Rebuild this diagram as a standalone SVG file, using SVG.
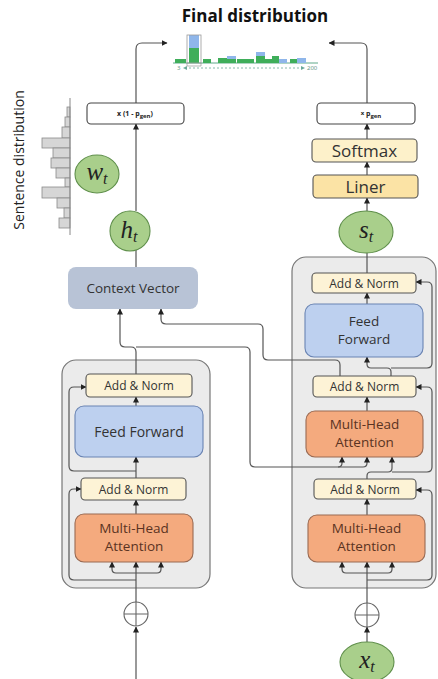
<svg xmlns="http://www.w3.org/2000/svg" width="438" height="679" viewBox="0 0 438 679">
<defs>
<marker id="a" viewBox="0 0 6 6" refX="5.5" refY="3" markerWidth="6" markerHeight="6" orient="auto" markerUnits="userSpaceOnUse"><path d="M0,0 L6,3 L0,6 z" fill="#222"/></marker>
</defs>
<style>
.ln{fill:none;stroke:#555;stroke-width:1.2}
.ar{marker-end:url(#a)}
.ct{fill:#ebebeb;stroke:#777;stroke-width:1.2}
.an{fill:#fdf3d6;stroke:#555;stroke-width:1.1}
.ff{fill:#bdd0ef;stroke:#6a84b3;stroke-width:1.1}
.mh{fill:#f4aa7e;stroke:#9a6a52;stroke-width:1.1}
.gr{fill:#a9cf8b;stroke:#5f8f4b;stroke-width:1.1}
.t{font-family:"Open Sans","Noto Sans",sans-serif;fill:#333;text-anchor:middle}
.m{font-family:"Liberation Serif",serif;font-style:italic;fill:#222;text-anchor:middle}
.hb{fill:#d6d6d6;stroke:#8a8a8a;stroke-width:0.8}
</style>
<rect width="438" height="679" fill="#fff"/>

<text x="255" y="22" class="t" style="font-weight:bold;font-size:17px;fill:#111">Final distribution</text>

<g id="final-dist">
<line x1="173" y1="63" x2="318" y2="63" stroke="#5fa98a" stroke-width="1"/>
<rect x="175" y="59" width="11" height="4" fill="#3fae5a"/>
<rect x="189" y="48" width="10" height="15" fill="#3fae5a"/>
<rect x="189" y="35" width="10" height="13" fill="#8fb6ea"/>
<rect x="187" y="35" width="14" height="28" fill="none" stroke="#999" stroke-width="0.8"/>
<rect x="203" y="59" width="8" height="4" fill="#3fae5a"/>
<rect x="218" y="58" width="9" height="5" fill="#3fae5a"/>
<rect x="227" y="56" width="9" height="7" fill="#8fb6ea"/>
<rect x="227" y="59" width="9" height="4" fill="#3fae5a"/>
<rect x="237" y="59" width="8" height="4" fill="#3fae5a"/>
<rect x="245" y="59" width="9" height="4" fill="#3fae5a"/>
<rect x="256" y="52" width="9" height="11" fill="#8fb6ea"/>
<rect x="256" y="56" width="9" height="7" fill="#3fae5a"/>
<rect x="265" y="59" width="7" height="4" fill="#3fae5a"/>
<rect x="272" y="56" width="7" height="7" fill="#3fae5a"/>
<rect x="279" y="59" width="8" height="4" fill="#8fb6ea"/>
<rect x="290" y="59" width="7" height="4" fill="#3fae5a"/>
<rect x="297" y="58" width="9" height="5" fill="#8fb6ea"/>
<path d="M187,63 V66 H201 V63" fill="none" stroke="#999" stroke-width="0.7"/>
<text x="177" y="70" style="font-family:'Noto Sans',sans-serif;font-size:6px;fill:#6a9a8a">3</text>
<line x1="185" y1="68" x2="303" y2="68" stroke="#6aa898" stroke-width="0.8" stroke-dasharray="2,2"/>
<path d="M183,68 l4,-2 v4 z M305,68 l-4,-2 v4 z" fill="#6aa898"/>
<text x="307" y="70" style="font-family:'Noto Sans',sans-serif;font-size:6px;fill:#6a9a8a">200</text>
</g>

<g id="sentence-dist">
<text transform="translate(24,160) rotate(-90)" style="font-family:'Open Sans','Noto Sans',sans-serif;font-size:14px;font-weight:500;fill:#222;text-anchor:middle">Sentence distribution</text>
<rect class="hb" x="67" y="107" width="3" height="10"/>
<rect class="hb" x="65" y="117" width="5" height="10"/>
<rect class="hb" x="62" y="127" width="8" height="11"/>
<rect class="hb" x="42" y="138" width="28" height="10"/>
<rect class="hb" x="53" y="148" width="17" height="10"/>
<rect class="hb" x="51" y="158" width="19" height="10"/>
<rect class="hb" x="56" y="168" width="14" height="10"/>
<rect class="hb" x="65" y="178" width="5" height="9"/>
<rect class="hb" x="42" y="187" width="28" height="11"/>
<rect class="hb" x="57" y="198" width="13" height="10"/>
<rect class="hb" x="64" y="208" width="6" height="10"/>
<rect class="hb" x="59" y="218" width="11" height="10"/>
<line x1="70" y1="98" x2="70" y2="235" stroke="#888" stroke-width="1"/>
</g>

<g id="encoder-container"><rect class="ct" x="62" y="360" width="148" height="228" rx="14"/></g>
<g id="decoder-container"><rect class="ct" x="292" y="257" width="144" height="331" rx="14"/></g>

<g id="connectors">
<path class="ln ar" d="M136,679 V627"/>
<path class="ln ar" d="M136,602 V562"/>
<path class="ln ar" d="M136,573 H116 Q112,573 112,569 V562"/>
<path class="ln ar" d="M136,573 H157 Q161,573 161,569 V562"/>
<path class="ln ar" d="M136,580 H74 Q69,580 69,575 V494 Q69,489 74,489 H81"/>
<path class="ln ar" d="M136,514 V500"/>
<path class="ln ar" d="M136,478 V457"/>
<path class="ln ar" d="M136,471 H74 Q69,471 69,466 V392 Q69,387 74,387 H86"/>
<path class="ln ar" d="M136,406 V397"/>
<path class="ln ar" d="M136,374 V352 Q136,347 131,347 H125 Q120,347 120,342 V309"/>
<path class="ln ar" d="M136,347 H245 Q250,347 250,352 V462 Q250,467 255,467 H338 Q342,467 342,463 V457"/>
<path class="ln ar" d="M338,467 H363 Q367,467 367,463 V457"/>
<path class="ln ar" d="M367,479 V476 Q367,472 371,472 H388 Q392,472 392,468 V457"/>
<path class="ln ar" d="M392,472 H427 Q432,472 432,467 V392 Q432,387 427,387 H416"/>
<path class="ln ar" d="M367,642 V627"/>
<path class="ln ar" d="M367,603 V562"/>
<path class="ln ar" d="M367,573 H346 Q342,573 342,569 V562"/>
<path class="ln ar" d="M367,573 H388 Q392,573 392,569 V562"/>
<path class="ln ar" d="M367,580 H427 Q432,580 432,575 V495 Q432,490 427,490 H416"/>
<path class="ln ar" d="M367,515 V499"/>
<path class="ln ar" d="M367,411 V397"/>
<path class="ln ar" d="M391,376 V372 Q391,368 387,368 H371 Q367,368 367,364 V357"/>
<path class="ln ar" d="M391,368 H427 Q432,368 432,363 V287 Q432,282 427,282 H416"/>
<path class="ln ar" d="M340,376 V365 Q340,360 335,360 H268 Q263,360 263,355 V329 Q263,324 258,324 H166 Q161,324 161,319 V309"/>
<path class="ln ar" d="M367,304 V293"/>
<path class="ln" d="M367,273 V253"/>
<path class="ln ar" d="M367,211 V198"/>
<path class="ln ar" d="M367,175 V162"/>
<path class="ln ar" d="M367,139 V124"/>
<path class="ln ar" d="M367,103 V49 Q367,43 361,43 H329"/>
<path class="ln" d="M136,267 V250"/>
<path class="ln ar" d="M136,211 V124"/>
<path class="ln ar" d="M136,103 V49 Q136,43 142,43 H167"/>
</g>

<g id="enc-addnorm2"><rect class="an" x="86" y="374" width="106" height="23" rx="4"/><text class="t" x="139" y="390" font-size="12">Add &amp; Norm</text></g>
<g id="enc-ff"><rect class="ff" x="75" y="406" width="128" height="51" rx="9"/><text class="t" x="139" y="436.5" font-size="14">Feed Forward</text></g>
<g id="enc-addnorm1"><rect class="an" x="81" y="478" width="105" height="22" rx="4"/><text class="t" x="133.5" y="493.5" font-size="12">Add &amp; Norm</text></g>
<g id="enc-mha"><rect class="mh" x="75" y="514" width="118" height="48" rx="9"/><text class="t" x="134" y="533" font-size="13.5" style="fill:#5a3322">Multi-Head</text><text class="t" x="134" y="551" font-size="13.5" style="fill:#5a3322">Attention</text></g>
<g id="enc-plus"><circle cx="136" cy="614" r="12" fill="#fff" stroke="#666" stroke-width="1.1"/><path d="M124,614 H148 M136,602 V626" stroke="#666" stroke-width="1.1"/></g>

<g id="context-vector"><rect x="68" y="267" width="130" height="42" rx="8" fill="#b8c3d6"/><text class="t" x="133" y="293" font-size="13.5">Context Vector</text></g>
<g id="h-t"><ellipse class="gr" cx="130" cy="231" rx="20" ry="20"/><text class="m" x="129" y="238" font-size="25">h<tspan font-size="16" dy="4">t</tspan></text></g>
<g id="w-t"><ellipse class="gr" cx="97" cy="174" rx="22" ry="19"/><text class="m" x="97" y="180" font-size="25">w<tspan font-size="16" dy="4">t</tspan></text></g>
<g id="mult-left"><rect x="87" y="103" width="97" height="21" rx="4" fill="#fff" stroke="#444" stroke-width="1.1"/><text class="t" x="135" y="116" font-size="7" font-weight="bold" style="fill:#222">x (1 - p<tspan font-size="6" dy="1.5">gen</tspan><tspan dy="-1.5">)</tspan></text></g>

<g id="dec-addnorm3"><rect class="an" x="312" y="273" width="104" height="20" rx="4"/><text class="t" x="364" y="287.5" font-size="12">Add &amp; Norm</text></g>
<g id="dec-ff"><rect class="ff" x="305" y="304" width="118" height="53" rx="9"/><text class="t" x="364" y="326" font-size="13.5">Feed</text><text class="t" x="364" y="344" font-size="13.5">Forward</text></g>
<g id="dec-addnorm2"><rect class="an" x="313" y="376" width="103" height="21" rx="4"/><text class="t" x="364.5" y="391" font-size="12">Add &amp; Norm</text></g>
<g id="dec-mha2"><rect class="mh" x="306" y="411" width="117" height="46" rx="9"/><text class="t" x="364.5" y="429" font-size="13.5" style="fill:#5a3322">Multi-Head</text><text class="t" x="364.5" y="447" font-size="13.5" style="fill:#5a3322">Attention</text></g>
<g id="dec-addnorm1"><rect class="an" x="314" y="479" width="102" height="20" rx="4"/><text class="t" x="365" y="493.5" font-size="12">Add &amp; Norm</text></g>
<g id="dec-mha1"><rect class="mh" x="308" y="515" width="117" height="47" rx="9"/><text class="t" x="366.5" y="533" font-size="13.5" style="fill:#5a3322">Multi-Head</text><text class="t" x="366.5" y="551" font-size="13.5" style="fill:#5a3322">Attention</text></g>
<g id="dec-plus"><circle cx="367" cy="615" r="12" fill="#fff" stroke="#666" stroke-width="1.1"/><path d="M355,615 H379 M367,603 V627" stroke="#666" stroke-width="1.1"/></g>
<g id="x-t"><ellipse class="gr" cx="367" cy="662" rx="27" ry="20"/><text class="m" x="367" y="668" font-size="25">x<tspan font-size="16" dy="4">t</tspan></text></g>
<g id="s-t"><ellipse class="gr" cx="366" cy="232" rx="27" ry="21"/><text class="m" x="366" y="238" font-size="25">s<tspan font-size="16" dy="4">t</tspan></text></g>
<g id="liner"><rect x="313" y="175" width="105" height="23" rx="4" fill="#fbe3a5" stroke="#555" stroke-width="1.1"/><text class="t" x="365.5" y="193" font-size="17">Liner</text></g>
<g id="softmax"><rect x="312" y="139" width="105" height="23" rx="4" fill="#fdf1ca" stroke="#555" stroke-width="1.1"/><text class="t" x="364.5" y="157" font-size="17">Softmax</text></g>
<g id="mult-right"><rect x="317" y="103" width="98" height="21" rx="4" fill="#fff" stroke="#444" stroke-width="1.1"/><text class="t" x="371" y="116" font-size="7" font-weight="bold" style="fill:#222"><tspan font-size="6" dy="-1.5">x</tspan><tspan dy="1.5"> p</tspan><tspan font-size="6" dy="1.5">gen</tspan></text></g>
</svg>
